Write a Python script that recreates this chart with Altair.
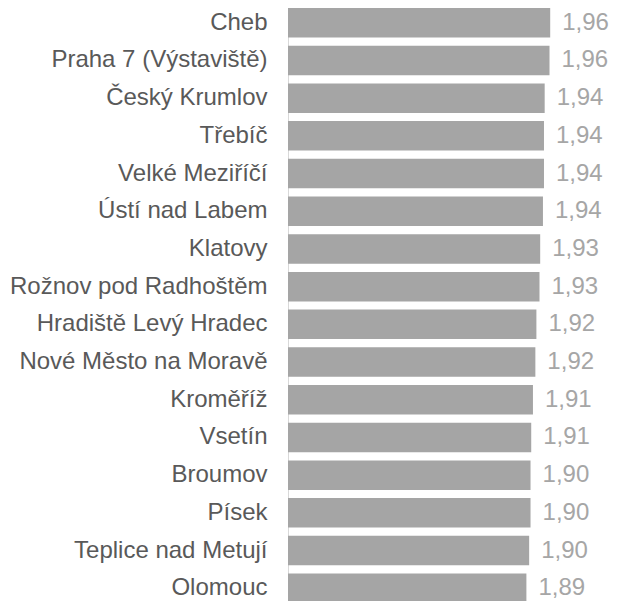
import altair as alt
import pandas as pd

cities = [
    "Cheb", "Praha 7 (Výstaviště)", "Český Krumlov", "Třebíč", "Velké Meziříčí",
    "Ústí nad Labem", "Klatovy", "Rožnov pod Radhoštěm", "Hradiště Levý Hradec",
    "Nové Město na Moravě", "Kroměříž", "Vsetín", "Broumov", "Písek",
    "Teplice nad Metují", "Olomouc",
]
values = [1.960, 1.958, 1.944, 1.942, 1.942, 1.939, 1.931, 1.929, 1.920, 1.917,
          1.910, 1.905, 1.903, 1.903, 1.899, 1.891]
labels = ["1,96", "1,96", "1,94", "1,94", "1,94", "1,94", "1,93", "1,93", "1,92",
          "1,92", "1,91", "1,91", "1,90", "1,90", "1,90", "1,89"]

df = pd.DataFrame({"city": cities, "value": values, "label": labels})

FONT = "Liberation Sans"

y = alt.Y(
    "city:N", sort=cities, title=None,
    scale=alt.Scale(paddingInner=0.218, paddingOuter=0),
    axis=alt.Axis(ticks=False, tickSize=0, labelPadding=21, labelFontSize=24,
                  labelFont=FONT, labelColor="#595959", domainColor="#d9d9d9",
                  labelLimit=400),
)
x = alt.X("value:Q", scale=alt.Scale(domain=[1.2, 2.0], zero=False, nice=False), axis=None)

bars = alt.Chart(df).mark_bar(color="#a5a5a5").encode(x=x, x2=alt.datum(1.2), y=y)
text = alt.Chart(df).mark_text(
    align="left", baseline="middle", dx=12, font=FONT, fontSize=24, color="#a6a6a6"
).encode(x=x, y=y, text="label:N")

chart = (bars + text).properties(
    width=276, height=595,
    autosize=alt.AutoSizeParams(type="none"),
    padding={"left": 280, "top": 0, "right": 46, "bottom": -2},
).configure_view(stroke=None)

chart.save("out.html", embed_options={"renderer": "svg", "actions": False})
